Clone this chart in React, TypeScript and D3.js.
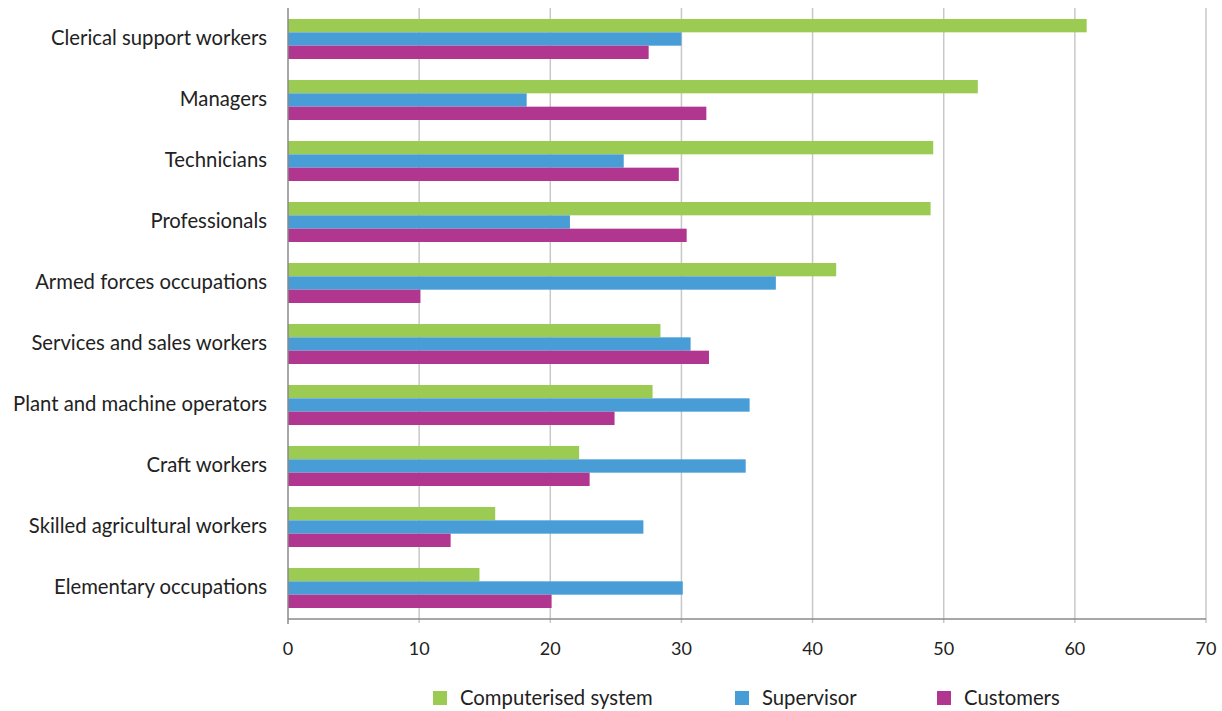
import React from "react";
import * as d3 from "d3";

const categories = [
  "Clerical support workers",
  "Managers",
  "Technicians",
  "Professionals",
  "Armed forces occupations",
  "Services and sales workers",
  "Plant and machine operators",
  "Craft workers",
  "Skilled agricultural workers",
  "Elementary occupations",
];
const seriesNames = ["Computerised system", "Supervisor", "Customers"];
const computerised = [60.9, 52.6, 49.2, 49.0, 41.8, 28.4, 27.8, 22.2, 15.8, 14.6];
const supervisor = [30.0, 18.2, 25.6, 21.5, 37.2, 30.7, 35.2, 34.9, 27.1, 30.1];
const customers = [27.5, 31.9, 29.8, 30.4, 10.1, 32.1, 24.9, 23.0, 12.4, 20.1];
const xTicks = [0, 10, 20, 30, 40, 50, 60, 70];
const colors = ["#9BCB52", "#489DD6", "#B0368F"];

const W = 1222;
const H = 711;
const FONT = "Lato, 'Noto Sans', sans-serif";

export default function App() {
  const x = d3.scaleLinear().domain([0, 70]).range([288, 1206]);
  const y = d3.scaleBand<string>().domain(categories).range([8.5, 618.5]).paddingInner(0.344).paddingOuter(0.172);
  const sub = d3.scaleBand<string>().domain(seriesNames).range([0, y.bandwidth()]);
  const data = [computerised, supervisor, customers];
  const legendX = [433, 735, 937];

  return (
    <svg width={W} height={H} style={{ position: "absolute", left: 0, top: 0 }} fontFamily={FONT}>
      <rect width={W} height={H} fill="#fff" />
      {xTicks.slice(1).map((t) => (
        <line key={t} x1={x(t)} x2={x(t)} y1={8} y2={623} stroke="#c8c8c8" strokeWidth={1.5} />
      ))}
      {categories.map((c, i) => (
        <g key={c}>
          {data.map((s, k) => (
            <rect
              key={k}
              x={x(0)}
              y={(y(c) as number) + (sub(seriesNames[k]) as number)}
              width={x(s[i]) - x(0)}
              height={sub.bandwidth()}
              fill={colors[k]}
            />
          ))}
          <text
            x={267}
            y={(y(c) as number) + y.bandwidth() / 2 - 2}
            textAnchor="end"
            dominantBaseline="central"
            fontSize={20.3}
            fill="#222"
          >
            {c}
          </text>
        </g>
      ))}
      <line x1={288} x2={1206} y1={619} y2={619} stroke="#8a8a8a" strokeWidth={1.5} />
      <line x1={288} x2={288} y1={8} y2={624} stroke="#8a8a8a" strokeWidth={1.5} />
      {xTicks.map((t) => (
        <g key={t}>
          <text x={x(t)} y={648} textAnchor="middle" dominantBaseline="central" fontSize={18} fill="#222">
            {t}
          </text>
        </g>
      ))}
      {seriesNames.map((n, k) => (
        <g key={n}>
          <rect x={legendX[k]} y={691} width={14} height={14} fill={colors[k]} />
          <text x={legendX[k] + 27} y={697} dominantBaseline="central" fontSize={20.3} fill="#222">
            {n}
          </text>
        </g>
      ))}
    </svg>
  );
}
